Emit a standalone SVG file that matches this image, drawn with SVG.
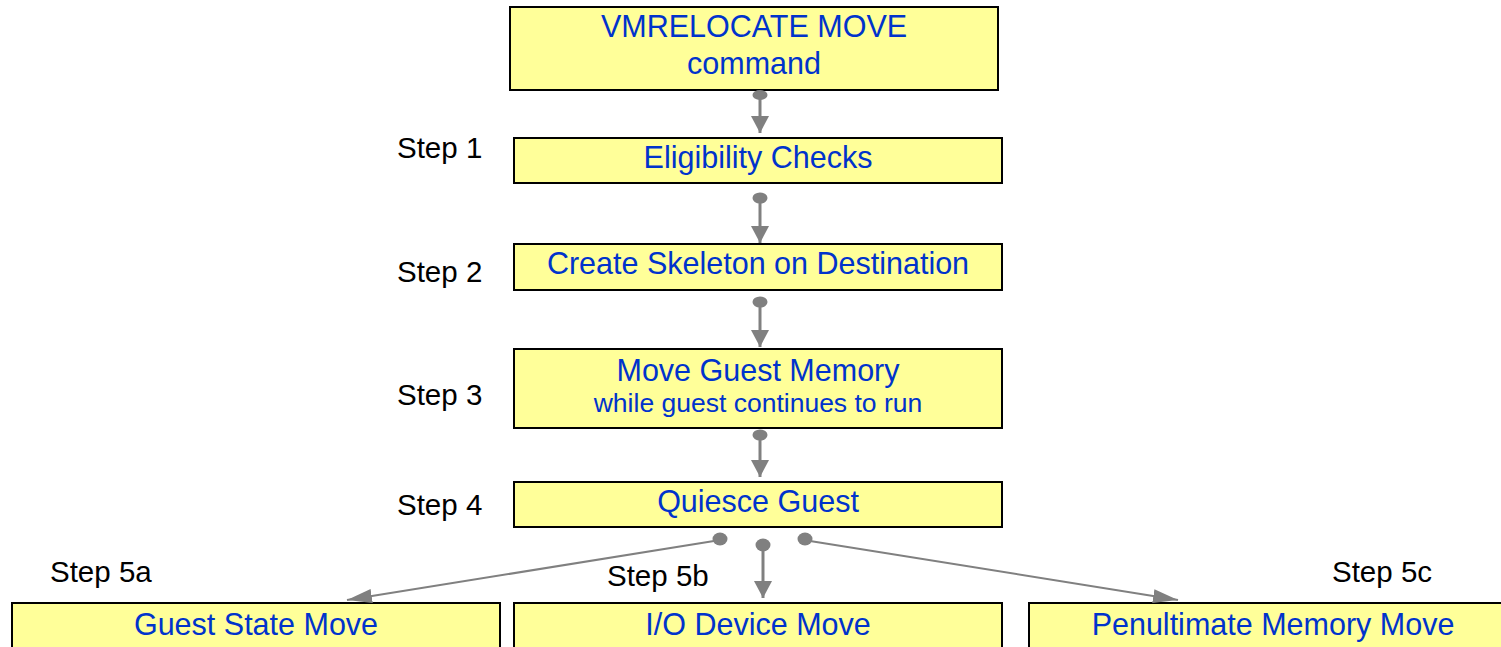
<svg xmlns="http://www.w3.org/2000/svg" width="1501" height="647" viewBox="0 0 1501 647">
<style>
.box{fill:#ffff99;stroke:#000;stroke-width:2}
.t{font-family:"Liberation Sans",Arial,sans-serif;font-size:30.5px;fill:#0033cc;text-anchor:middle}
.s{font-size:26.5px}
.step{font-family:"Liberation Sans",Arial,sans-serif;font-size:29.5px;fill:#000}
.c{stroke:#808080;fill:none}
.v{stroke-width:3}
.d{stroke-width:2}
.dot{fill:#808080}
</style>
<defs>
<marker id="av" markerUnits="userSpaceOnUse" markerWidth="18" markerHeight="18" refX="17" refY="9" orient="auto">
<path d="M0,0 L17,9 L0,18 z" fill="#808080"/>
</marker>
<marker id="ad" markerUnits="userSpaceOnUse" markerWidth="26" markerHeight="16" refX="25" refY="7" orient="auto">
<path d="M0,0 L25,7 L0,14 z" fill="#808080"/>
</marker>
</defs>
<g id="n1"><rect class="box" x="510" y="7" width="488" height="83"/><text class="t" x="754" y="37">VMRELOCATE MOVE</text><text class="t" x="754" y="74">command</text></g>
<g id="n2"><rect class="box" x="514" y="138" width="488" height="45"/><text class="t" x="758" y="168">Eligibility Checks</text></g>
<g id="n3"><rect class="box" x="514" y="244" width="488" height="46"/><text class="t" x="758" y="274">Create Skeleton on Destination</text></g>
<g id="n4"><rect class="box" x="514" y="349" width="488" height="79"/><text class="t" x="758" y="381">Move Guest Memory</text><text class="t s" x="758" y="412">while guest continues to run</text></g>
<g id="n5"><rect class="box" x="514" y="482" width="488" height="45"/><text class="t" x="758" y="512">Quiesce Guest</text></g>
<g id="n6a"><rect class="box" x="12" y="603" width="488" height="60"/><text class="t" x="256" y="635">Guest State Move</text></g>
<g id="n6b"><rect class="box" x="514" y="603" width="488" height="60"/><text class="t" x="758" y="635">I/O Device Move</text></g>
<g id="n6c"><rect class="box" x="1029" y="603" width="490" height="60"/><text class="t" x="1273" y="635">Penultimate Memory Move</text></g>
<g id="labels">
<text class="step" x="397" y="158">Step 1</text>
<text class="step" x="397" y="282">Step 2</text>
<text class="step" x="397" y="405">Step 3</text>
<text class="step" x="397" y="515">Step 4</text>
<text class="step" x="50" y="582">Step 5a</text>
<text class="step" x="607" y="586">Step 5b</text>
<text class="step" x="1332" y="582">Step 5c</text>
</g>
<g id="connectors">
<line class="c v" x1="760" y1="97" x2="760" y2="133" marker-end="url(#av)"/>
<ellipse class="dot" cx="760" cy="95" rx="7.5" ry="5"/>
<line class="c v" x1="760" y1="200" x2="760" y2="243" marker-end="url(#av)"/>
<ellipse class="dot" cx="760" cy="198" rx="7.5" ry="5.5"/>
<line class="c v" x1="760" y1="304" x2="760" y2="347" marker-end="url(#av)"/>
<ellipse class="dot" cx="760" cy="302" rx="7.5" ry="5.5"/>
<line class="c v" x1="760" y1="436" x2="760" y2="477" marker-end="url(#av)"/>
<ellipse class="dot" cx="760" cy="435" rx="7.5" ry="5.5"/>
<line class="c v" x1="763" y1="547" x2="763" y2="598" marker-end="url(#av)"/>
<ellipse class="dot" cx="763" cy="545" rx="7.5" ry="6.5"/>
<line class="c d" x1="714" y1="541" x2="347" y2="600" marker-end="url(#ad)"/>
<ellipse class="dot" cx="720" cy="539" rx="7.5" ry="6.5"/>
<line class="c d" x1="810" y1="541" x2="1178" y2="600" marker-end="url(#ad)"/>
<ellipse class="dot" cx="805" cy="539" rx="7.5" ry="6.5"/>
</g>
</svg>
